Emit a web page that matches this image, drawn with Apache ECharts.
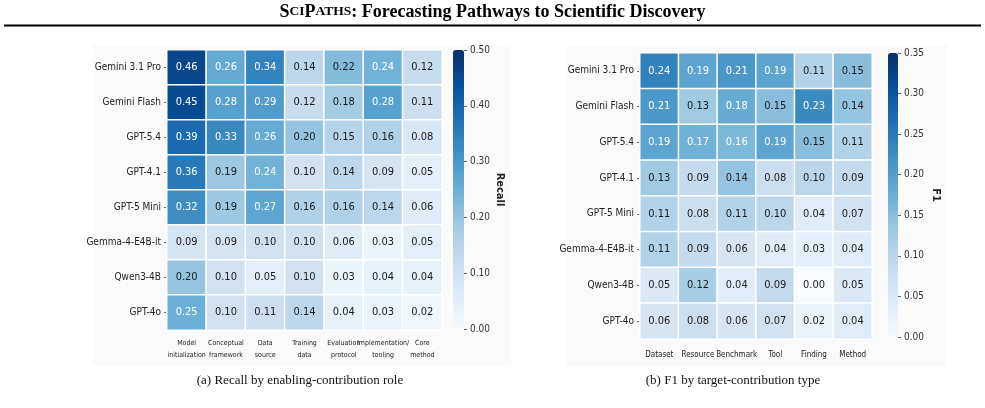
<!DOCTYPE html>
<html>
<head>
<meta charset="utf-8">
<script src="https://cdn.jsdelivr.net/npm/echarts@6/dist/echarts.min.js"></script>
<style>
  html, body { margin: 0; padding: 0; background: #fff; }
  #chart { width: 985px; height: 408px; }
</style>
</head>
<body>
<div id="chart"></div>
<script>
var models = ["Gemini 3.1 Pro", "Gemini Flash", "GPT-5.4", "GPT-4.1", "GPT-5 Mini", "Gemma-4-E4B-it", "Qwen3-4B", "GPT-4o"];

// (a) recall, one row per model
var roles = ["Model\ninitialization", "Conceptual\nframework", "Data\nsource", "Training\ndata", "Evaluation\nprotocol", "Implementation/\ntooling", "Core\nmethod"];
var recall = [
  [0.46, 0.26, 0.34, 0.14, 0.22, 0.24, 0.12],
  [0.45, 0.28, 0.29, 0.12, 0.18, 0.28, 0.11],
  [0.39, 0.33, 0.26, 0.20, 0.15, 0.16, 0.08],
  [0.36, 0.19, 0.24, 0.10, 0.14, 0.09, 0.05],
  [0.32, 0.19, 0.27, 0.16, 0.16, 0.14, 0.06],
  [0.09, 0.09, 0.10, 0.10, 0.06, 0.03, 0.05],
  [0.20, 0.10, 0.05, 0.10, 0.03, 0.04, 0.04],
  [0.25, 0.10, 0.11, 0.14, 0.04, 0.03, 0.02]
];
var recallTicks = [0, 0.1, 0.2, 0.3, 0.4, 0.5];

// (b) F1
var types = ["Dataset", "Resource", "Benchmark", "Tool", "Finding", "Method"];
var f1 = [
  [0.24, 0.19, 0.21, 0.19, 0.11, 0.15],
  [0.21, 0.13, 0.18, 0.15, 0.23, 0.14],
  [0.19, 0.17, 0.16, 0.19, 0.15, 0.11],
  [0.13, 0.09, 0.14, 0.08, 0.10, 0.09],
  [0.11, 0.08, 0.11, 0.10, 0.04, 0.07],
  [0.11, 0.09, 0.06, 0.04, 0.03, 0.04],
  [0.05, 0.12, 0.04, 0.09, 0.00, 0.05],
  [0.06, 0.08, 0.06, 0.07, 0.02, 0.04]
];
var f1Ticks = [0, 0.05, 0.1, 0.15, 0.2, 0.25, 0.3, 0.35];

var blues = ["#f7fbff", "#deebf7", "#c6dbef", "#9ecae1", "#6baed6", "#4292c6", "#2171b5", "#08519c", "#08306b"];
var narrow = "'Liberation Sans Narrow', 'DejaVu Sans Condensed', 'Noto Sans', sans-serif";
var serif = "'Liberation Serif', 'DejaVu Serif', serif";
var clear = "rgba(0,0,0,0)";

// white text on the darker cells, like seaborn does
function cells(mat, cut) {
  var out = [];
  mat.forEach(function (row, i) {
    row.forEach(function (v, j) {
      out.push({ value: [j, i, v], label: { color: v >= cut ? "#fff" : "#1a1a1a" } });
    });
  });
  return out;
}

function heatAxes(cats, gridIndex, xFont, xMargin) {
  return {
    x: {
      type: "category", gridIndex: gridIndex, data: cats,
      axisLine: { show: false }, axisTick: { show: false }, splitArea: { show: false },
      axisLabel: { fontFamily: narrow, fontSize: xFont, color: "#222", lineHeight: 12, margin: xMargin, interval: 0 }
    },
    y: {
      type: "category", gridIndex: gridIndex, data: models, inverse: true,
      axisLine: { show: true, lineStyle: { color: clear } },
      axisTick: { show: true, length: 3, alignWithLabel: true, lineStyle: { color: "#666" } },
      axisLabel: { fontFamily: narrow, fontSize: 10, color: "#222", margin: 6 }
    }
  };
}

function barAxis(gridIndex, ticks, name, gap) {
  return {
    type: "value", gridIndex: gridIndex, position: "right", z: 10,
    min: ticks[0], max: ticks[ticks.length - 1], interval: ticks[1] - ticks[0],
    axisLine: { show: true, onZero: false, lineStyle: { color: clear } }, splitLine: { show: false },
    axisTick: { show: true, length: 3, lineStyle: { color: "#666" } },
    axisLabel: { fontFamily: narrow, fontSize: 10, color: "#333", margin: 6, formatter: function (v) { return v.toFixed(2); } },
    name: name, nameLocation: "middle", nameRotate: -90, nameGap: gap,
    nameTextStyle: { fontFamily: narrow, fontSize: 11, fontWeight: "bold", color: "#222" }
  };
}

var a = heatAxes(roles, 0, 7, 7);
var b = heatAxes(types, 2, 8, 10);

var option = {
  animation: false,
  backgroundColor: "#fff",
  graphic: [
    { type: "rect", silent: true, shape: { x: 93, y: 45, width: 418, height: 320 }, style: { fill: "#fafafa" } },
    { type: "rect", silent: true, shape: { x: 567, y: 45, width: 380, height: 322 }, style: { fill: "#fafafa" } },
    {
      type: "text", left: "center", top: 3,
      style: {
        text: "{a|S}{b|CI}{a|P}{b|ATHS}{a|: Forecasting Pathways to Scientific Discovery}",
        rich: {
          a: { fontFamily: serif, fontSize: 18, fontWeight: "bold", fill: "#000" },
          b: { fontFamily: serif, fontSize: 13.5, fontWeight: "bold", fill: "#000" }
        }
      }
    },
    { type: "line", shape: { x1: 4, y1: 25.5, x2: 981, y2: 25.5 }, style: { stroke: "#000", lineWidth: 2 } },
    { type: "text", x: 300, y: 381, style: { text: "(a) Recall by enabling-contribution role", fontFamily: serif, fontSize: 13, fill: "#111", align: "center", verticalAlign: "middle" } },
    { type: "text", x: 733, y: 381, style: { text: "(b) F1 by target-contribution type", fontFamily: serif, fontSize: 13, fill: "#111", align: "center", verticalAlign: "middle" } }
  ],
  grid: [
    { left: 167, top: 50, width: 275, height: 280 },
    { left: 453, top: 50, width: 11, height: 279 },
    { left: 640, top: 53, width: 232, height: 286 },
    { left: 888, top: 53, width: 10, height: 284 }
  ],
  xAxis: [
    a.x,
    { type: "value", gridIndex: 1, show: false },
    b.x,
    { type: "value", gridIndex: 3, show: false }
  ],
  yAxis: [
    a.y,
    barAxis(1, recallTicks, "Recall", 26),
    b.y,
    barAxis(3, f1Ticks, "F1", 32)
  ],
  visualMap: [
    {
      type: "continuous", seriesIndex: 0, min: 0, max: 0.5, calculable: false, hoverLink: false,
      orient: "vertical", left: 453, top: 50, itemWidth: 11, itemHeight: 279, padding: 0,
      showLabel: false, text: null, inRange: { color: blues }
    },
    {
      type: "continuous", seriesIndex: 1, min: 0, max: 0.35, calculable: false, hoverLink: false,
      orient: "vertical", left: 888, top: 53, itemWidth: 10, itemHeight: 284, padding: 0,
      showLabel: false, text: null, inRange: { color: blues }
    }
  ],
  series: [
    {
      type: "heatmap", xAxisIndex: 0, yAxisIndex: 0, data: cells(recall, 0.235),
      itemStyle: { borderColor: "#fff", borderWidth: 1.5 },
      label: { show: true, fontFamily: narrow, fontSize: 11, formatter: function (p) { return p.value[2].toFixed(2); } },
      emphasis: { disabled: true }
    },
    {
      type: "heatmap", xAxisIndex: 2, yAxisIndex: 2, data: cells(f1, 0.155),
      itemStyle: { borderColor: "#fff", borderWidth: 1.5 },
      label: { show: true, fontFamily: narrow, fontSize: 11, formatter: function (p) { return p.value[2].toFixed(2); } },
      emphasis: { disabled: true }
    },
    { type: "line", xAxisIndex: 1, yAxisIndex: 1, data: [] },
    { type: "line", xAxisIndex: 3, yAxisIndex: 3, data: [] }
  ]
};

var myChart = echarts.init(document.getElementById("chart"));
myChart.setOption(option);
</script>
</body>
</html>
